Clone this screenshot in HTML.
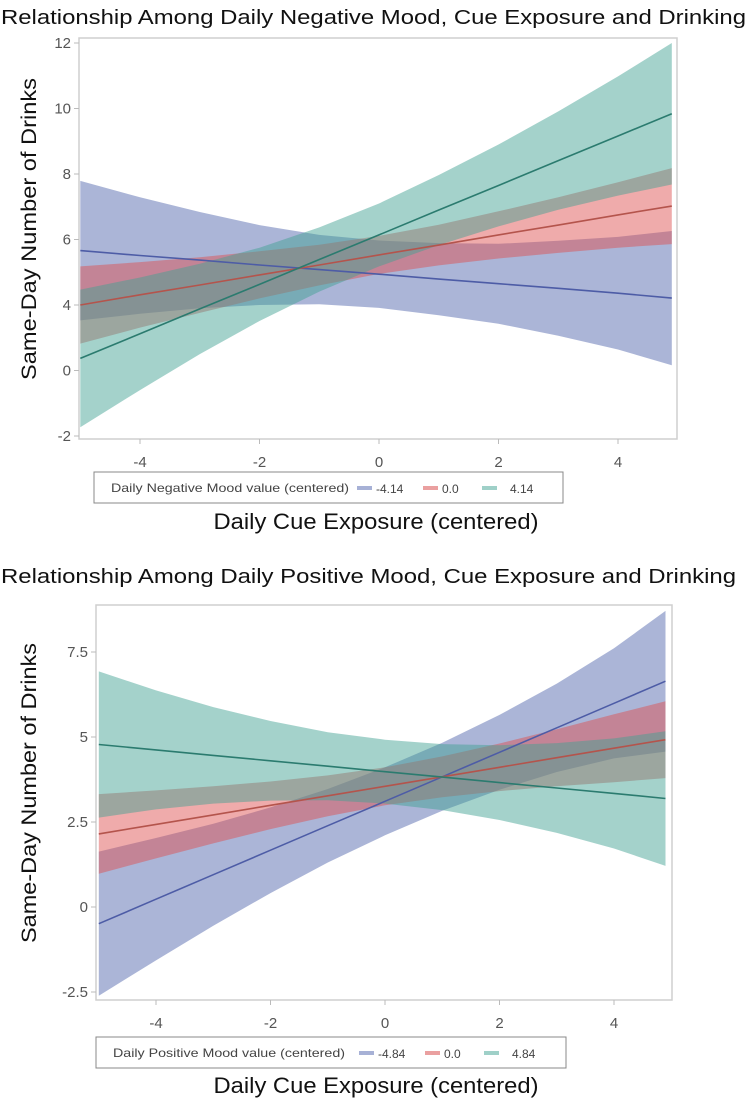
<!DOCTYPE html>
<html><head><meta charset="utf-8"><style>
html,body{margin:0;padding:0;background:#fff;}
svg{display:block;font-family:"Liberation Sans",sans-serif;}
</style></head><body>
<svg id="root" width="751" height="1101" viewBox="0 0 751 1101" xmlns="http://www.w3.org/2000/svg"></svg>
<script>
// ---------- DATA: top chart (negative mood) ----------
const xGrid = [-5,-4,-3,-2,-1,0,1,2,3,4,4.9];
const xTicks = [-4,-2,0,2,4];
const xTickLabels = ['-4','-2','0','2','4'];

const negYTicks = [12,10,8,6,4,2,0];
const negYTickLabels = ['12','10','8','6','4','0','-2'];
const negLegendLabels = ['-4.14','0.0','4.14'];
const negBlueLine = [5.66,5.51,5.37,5.22,5.08,4.94,4.79,4.65,4.51,4.36,4.21];
const negBlueHW   = [2.13,1.78,1.47,1.22,1.06,1.03,1.10,1.22,1.45,1.72,2.05];
const negRedLine  = [4.00,4.31,4.61,4.92,5.22,5.53,5.83,6.14,6.44,6.75,7.02];
const negRedHW    = [1.18,1.00,0.85,0.72,0.62,0.58,0.62,0.72,0.85,1.00,1.16];
const negGreenLine= [2.37,3.12,3.88,4.63,5.39,6.14,6.90,7.65,8.41,9.16,9.84];
const negGreenHW  = [2.10,1.72,1.38,1.12,0.98,0.96,1.07,1.25,1.50,1.82,2.16];

// ---------- DATA: bottom chart (positive mood) ----------
const posYTicks = [7.5,5,2.5,0,-2.5];
const posYTickLabels = ['7.5','5','2.5','0','-2.5'];
const posLegendLabels = ['-4.84','0.0','4.84'];
const posBlueLine = [-0.49,0.23,0.95,1.67,2.39,3.11,3.83,4.55,5.27,5.99,6.64];
const posBlueHW   = [2.12,1.80,1.50,1.26,1.08,1.00,1.00,1.10,1.30,1.62,2.07];
const posRedLine  = [2.15,2.43,2.71,2.99,3.27,3.55,3.83,4.11,4.39,4.67,4.92];
const posRedHW    = [1.17,1.00,0.84,0.70,0.60,0.56,0.60,0.70,0.84,1.00,1.13];
const posGreenLine= [4.78,4.62,4.46,4.30,4.14,3.98,3.82,3.66,3.50,3.34,3.19];
const posGreenHW  = [2.15,1.75,1.42,1.17,1.00,0.94,0.97,1.10,1.32,1.62,1.98];

const NS = 'http://www.w3.org/2000/svg';
const root = document.getElementById('root');
function mk(tag, attrs, parent){
  const e = document.createElementNS(NS, tag);
  for (const k in attrs) e.setAttribute(k, attrs[k]);
  (parent||root).appendChild(e);
  return e;
}

const fills = ['rgba(88,108,176,0.5)','rgba(222,80,80,0.48)','rgba(64,160,146,0.48)'];
const strokes = ['#4d5ca6','#b4544c','#2b7b6f'];
const legendSw = ['#a7b1d6','#eaa0a0','#9fd0c8'];

function drawChart(cfg){
  const g = mk('g', {});
  
  
  const sx = v => cfg.x0 + (v - cfg.xmin) / (cfg.xmax - cfg.xmin) * (cfg.x1 - cfg.x0);
  const sy = v => cfg.y1 - (v - cfg.ymin) / (cfg.ymax - cfg.ymin) * (cfg.y1 - cfg.y0);

  const t = mk('text', {x: cfg.titleX, y: cfg.titleY, 'font-size': 20, fill: '#111', textLength: cfg.titleW, lengthAdjust: 'spacingAndGlyphs'}, g);
  t.textContent = cfg.title;
  
  

  const fr = mk('rect', {x: cfg.fx0, y: cfg.fy0, width: cfg.fx1 - cfg.fx0, height: cfg.fy1 - cfg.fy0, fill: '#fff', stroke: '#cfcfcf', 'stroke-width': 1.5}, g);
  
  

  const series = cfg.series;
  const names = ['low','mean','high'];
  series.forEach((s, i) => {
    let d = '';
    xGrid.forEach((x, j) => { d += (j ? 'L' : 'M') + sx(x).toFixed(1) + ' ' + sy(s.line[j] + s.hw[j]).toFixed(1); });
    for (let j = xGrid.length - 1; j >= 0; j--) d += 'L' + sx(xGrid[j]).toFixed(1) + ' ' + sy(s.line[j] - s.hw[j]).toFixed(1);
    const p = mk('path', {d: d + 'Z', fill: fills[i], stroke: 'none'}, g);
    
    
  });
  series.forEach((s, i) => {
    const pts = xGrid.map((x, j) => sx(x).toFixed(1) + ',' + sy(s.line[j]).toFixed(1)).join(' ');
    const l = mk('polyline', {points: pts, fill: 'none', stroke: strokes[i], 'stroke-width': 1.6}, g);
    
    
  });

  cfg.yTicks.forEach((v, i) => {
    const y = sy(v);
    mk('line', {x1: cfg.fx0 - 5, x2: cfg.fx0, y1: y, y2: y, stroke: '#bbb'}, g);
    const tl = mk('text', {x: cfg.fx0 - 8, y: y + 5, 'font-size': 15, fill: '#555', 'text-anchor': 'end'}, g);
    tl.textContent = cfg.yTickLabels[i];
    
    
  });
  xTicks.forEach((v, i) => {
    const x = sx(v);
    mk('line', {x1: x, x2: x, y1: cfg.fy1, y2: cfg.fy1 + 5, stroke: '#bbb'}, g);
    const tl = mk('text', {x: x, y: cfg.xLabY, 'font-size': 15, fill: '#555', 'text-anchor': 'middle'}, g);
    tl.textContent = xTickLabels[i];
    
    
  });

  const yt = mk('text', {x: 0, y: 0, 'font-size': 21, fill: '#111', 'text-anchor': 'middle', transform: 'translate(' + cfg.yTitleX + ',' + cfg.yTitleY + ') rotate(-90)', textLength: cfg.yTitleW, lengthAdjust: 'spacingAndGlyphs'}, g);
  yt.textContent = 'Same-Day Number of Drinks';
  
  

  const lg = mk('g', {}, g);
  
  
  mk('rect', {x: cfg.lx, y: cfg.ly, width: cfg.lw, height: 31, fill: '#fff', stroke: '#888', 'stroke-width': 1}, lg);
  const lt = mk('text', {x: cfg.lx + 17, y: cfg.ly + 20, 'font-size': 12, fill: '#444', textLength: cfg.ltw, lengthAdjust: 'spacingAndGlyphs'}, lg);
  lt.textContent = cfg.legendTitle;
  const swX = [cfg.lx + 263, cfg.lx + 329, cfg.lx + 388];
  cfg.legendLabels.forEach((lab, i) => {
    const sw = mk('rect', {x: swX[i], y: cfg.ly + 14, width: 15, height: 4, fill: legendSw[i]}, lg);
    
    
    const tx = mk('text', {x: swX[i] + 19 + (i === 2 ? 9 : 0), y: cfg.ly + 21, 'font-size': 12, fill: '#444'}, lg);
    tx.textContent = lab;
    
    
  });

  const xt = mk('text', {x: cfg.xTitleX, y: cfg.xTitleY, 'font-size': 22, fill: '#111', 'text-anchor': 'middle', textLength: 325, lengthAdjust: 'spacingAndGlyphs'}, g);
  xt.textContent = 'Daily Cue Exposure (centered)';
  
  
}

drawChart({
  name: 'negative-mood-chart',
  title: 'Relationship Among Daily Negative Mood, Cue Exposure and Drinking', titleX: 1, titleY: 24, titleW: 745,
  fx0: 79, fx1: 677, fy0: 38, fy1: 439,
  xmin: -4, xmax: 4, x0: 140, x1: 618,
  ymin: 0, ymax: 12, y0: 43, y1: 436,
  yTicks: negYTicks, yTickLabels: negYTickLabels, xLabY: 467,
  yTitleX: 36, yTitleY: 229, yTitleW: 302,
  lx: 94, ly: 472, lw: 469, ltw: 238, legendTitle: 'Daily Negative Mood value (centered)', legendLabels: negLegendLabels,
  xTitleX: 376, xTitleY: 529,
  series: [{line: negBlueLine, hw: negBlueHW}, {line: negRedLine, hw: negRedHW}, {line: negGreenLine, hw: negGreenHW}]
});
drawChart({
  name: 'positive-mood-chart',
  title: 'Relationship Among Daily Positive Mood, Cue Exposure and Drinking', titleX: 1, titleY: 583, titleW: 735,
  fx0: 96, fx1: 672, fy0: 605, fy1: 1000,
  xmin: -4, xmax: 4, x0: 156, x1: 614,
  ymin: -2.5, ymax: 7.5, y0: 652, y1: 992,
  yTicks: posYTicks, yTickLabels: posYTickLabels, xLabY: 1028,
  yTitleX: 36, yTitleY: 793, yTitleW: 300,
  lx: 96, ly: 1037, lw: 470, ltw: 232, legendTitle: 'Daily Positive Mood value (centered)', legendLabels: posLegendLabels,
  xTitleX: 376, xTitleY: 1093,
  series: [{line: posBlueLine, hw: posBlueHW}, {line: posRedLine, hw: posRedHW}, {line: posGreenLine, hw: posGreenHW}]
});
</script>
</body></html>
